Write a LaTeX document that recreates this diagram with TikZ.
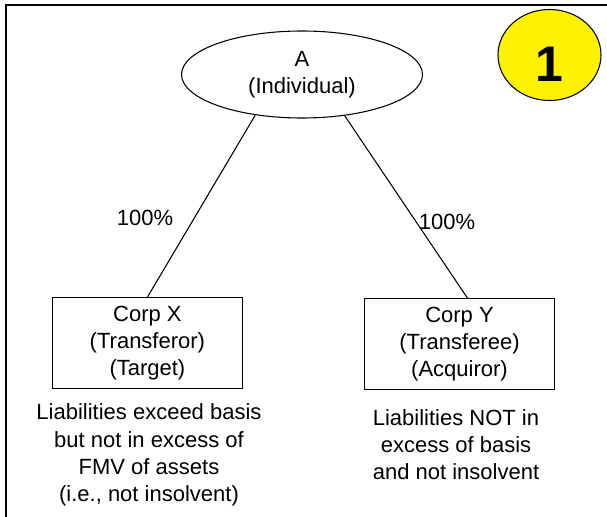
\documentclass[tikz,border=0pt]{standalone}
\usepackage{fontspec}
\setmainfont{Liberation Sans}
\usetikzlibrary{shapes.geometric}
\begin{document}
\begin{tikzpicture}[x=0.75pt,y=-0.75pt,
  lbl/.style={font=\fontsize{16.5}{20.4}\selectfont, align=center, inner sep=0pt},
  corpbox/.style={lbl, draw, line width=0.8pt, minimum width=142pt, minimum height=68pt},
  person/.style={lbl, draw, ellipse, line width=0.8pt, minimum width=180.75pt, minimum height=65.25pt},
  badge/.style={draw, ellipse, fill=yellow, line width=0.8pt, minimum width=77.25pt, minimum height=68.25pt, inner sep=0pt},
  conn/.style={line width=0.8pt},
  frame/.style={line width=1.9pt}
]
\useasboundingbox (0,0) rectangle (607,517);
% frame
\coordinate (fbl) at (6,517);
\coordinate (ftl) at (6,5);
\coordinate (ftr) at (607,5);
\draw[frame] (fbl) -- (ftl) -- (ftr);

% badge
\node[badge] (badge) at (549.5,55) {};
\node[inner sep=0pt, font=\fontsize{37.5}{40}\selectfont\bfseries] (one) at (549.5,64) {1};

% individual
\node[person] (A) at (302,74.5) {A\\(Individual)};

% corporations
\node[corpbox] (X) at (147.4,343) {Corp X\\(Transferor)\\(Target)};
\node[corpbox] (Y) at (459.5,344) {Corp Y\\(Transferee)\\(Acquiror)};

% connectors
\draw[conn] (A.221) -- (X.north);
\draw[conn] (A.316.6) -- ([xshift=6pt]Y.north);

% percentages
\node[lbl] (px) at (145,218) {100\%};
\node[lbl] (py) at (447,222) {100\%};

% notes
\node[lbl] (nx) at (149,455) {Liabilities exceed basis\\but not in excess of\\FMV of assets\\(i.e., not insolvent)};
\node[lbl] (ny) at (456,444.5) {Liabilities NOT in\\excess of basis\\and not insolvent};
\end{tikzpicture}
\end{document}
